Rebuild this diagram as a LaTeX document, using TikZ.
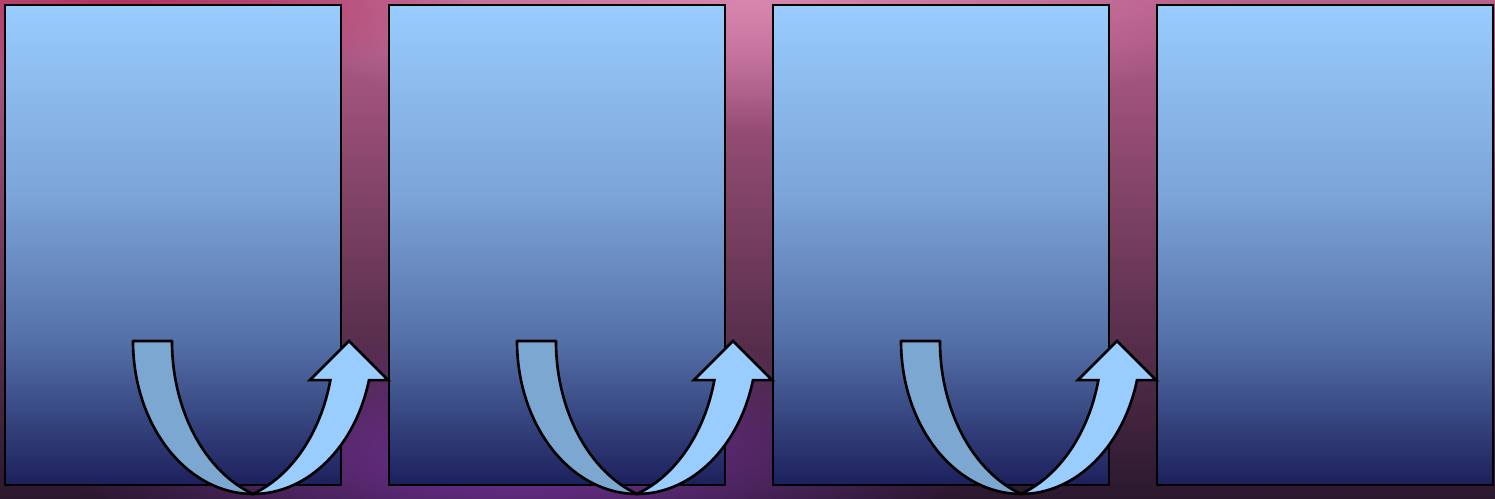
\documentclass[tikz,border=0pt]{standalone}
\usepackage{tikz}
\usetikzlibrary{fadings}

\definecolor{bgtop}{RGB}{185,95,140}
\definecolor{bgmid}{RGB}{120,58,100}
\definecolor{bgbot}{RGB}{42,24,46}
\definecolor{glowpink}{RGB}{215,135,175}
\definecolor{glowred}{RGB}{180,50,95}
\definecolor{glowviolet}{RGB}{112,48,150}
\definecolor{skytop}{RGB}{153,204,255}
\definecolor{skymid}{RGB}{124,164,214}
\definecolor{skylow}{RGB}{84,112,168}
\definecolor{skybot}{RGB}{28,32,92}
\definecolor{bandback}{RGB}{123,167,209}

\pgfdeclareverticalshading{panelshade}{100bp}{color(0bp)=(skybot); color(25bp)=(skybot); color(40bp)=(skylow); color(55bp)=(skymid); color(75bp)=(skytop); color(100bp)=(skytop)}
\tikzfading[name=glowfade, inner color=transparent!0, outer color=transparent!100]

\tikzset{
  panel/.style={draw=black, line width=1.5pt, shading=panelshade},
  backband/.style={draw=black, line width=1.5pt, fill=bandback, line join=round},
  frontband/.style={draw=black, line width=1.5pt, fill=skytop, line join=miter},
  glow/.style={path fading=glowfade}
}

\begin{document}
\begin{tikzpicture}[x=0.02cm, y=0.02cm]
\useasboundingbox (0,0) rectangle (1495,499);
% background
\begin{scope}
  \clip (0,0) rectangle (1495,499);
  \shade[top color=bgtop, middle color=bgmid, bottom color=bgbot] (0,0) rectangle (1495,499);
  \fill[glowpink, glow] (750,499) ellipse [x radius=10cm, y radius=2.6cm];
  \fill[glowred, glow] (120,499) ellipse [x radius=7cm, y radius=1.6cm];
  \fill[glowviolet, glow] (520,40) ellipse [x radius=9cm, y radius=2.6cm];
\end{scope}
% panels
\foreach \k in {0,...,3}
  \shade[panel] (5+384*\k,14) rectangle (341+384*\k,494);
% u-turn arrows between the panels (outer radii 120/153 px, inner 120.7/162 px)
\foreach \k in {0,1,2} {
  \begin{scope}[shift={(384*\k,0)}]
    % back half
    \filldraw[backband] (133,158)
      arc[start angle=180, end angle=270, x radius=2.4cm, y radius=3.06cm]
      arc[start angle=250.8, end angle=180, x radius=2.414cm, y radius=3.24cm] -- cycle;
    % front half with head
    \filldraw[frontband] (253,5)
      arc[start angle=270, end angle=345.2, x radius=2.4cm, y radius=3.06cm]
      -- (388,118.9) -- (349,158) -- (310,118.9) -- (330.4,118.9)
      arc[start angle=346.03, end angle=289.2, x radius=2.414cm, y radius=3.24cm] -- cycle;
  \end{scope}
}
\end{tikzpicture}
\end{document}
